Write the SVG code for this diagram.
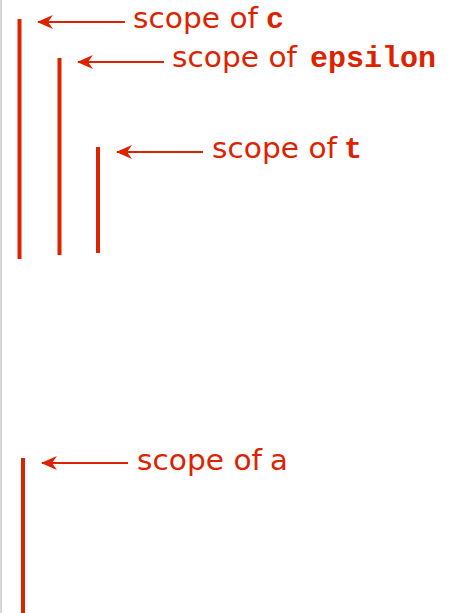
<svg xmlns="http://www.w3.org/2000/svg" width="459" height="613" viewBox="0 0 459 613">
<style>
.bar{stroke:#dd2200;stroke-width:4;fill:none}
.arr{stroke:#dd2200;stroke-width:2;fill:none;marker-end:url(#ah)}
.lbl{font-family:"DejaVu Sans",sans-serif;font-size:29px;fill:#dd2200}
.code{font-family:"Liberation Mono",monospace;font-weight:bold;font-size:30px;fill:#dd2200}
</style>
<defs>
<marker id="ah" markerWidth="16" markerHeight="14" viewBox="0 0 16 14" refX="15" refY="7" orient="auto" markerUnits="userSpaceOnUse">
<path d="M0,0 L16,7 L0,14 L5,7 Z" fill="#dd2200"/>
</marker>
</defs>
<rect width="459" height="613" fill="#ffffff"/>
<line x1="1" y1="0" x2="1" y2="613" stroke="#c8c8c8" stroke-width="1.5"/>
<g id="scope-c">
<line class="bar" x1="19.5" y1="19" x2="19.5" y2="259"/>
<text class="lbl" x="133" y="28" textLength="125" lengthAdjust="spacingAndGlyphs">scope of</text>
<text class="code" x="266" y="28">c</text>
</g>
<g id="scope-epsilon">
<line class="bar" x1="59.5" y1="58" x2="59.5" y2="255"/>
<text class="lbl" x="172" y="67" textLength="125" lengthAdjust="spacingAndGlyphs">scope of</text>
<text class="code" x="310" y="67">epsilon</text>
</g>
<g id="scope-t">
<line class="bar" x1="98" y1="147" x2="98" y2="253"/>
<text class="lbl" x="212" y="158" textLength="125" lengthAdjust="spacingAndGlyphs">scope of</text>
<text class="code" x="344" y="158">t</text>
</g>
<g id="scope-a">
<line class="bar" x1="23" y1="458" x2="23" y2="613"/>
<text class="lbl" x="137" y="470" textLength="125" lengthAdjust="spacingAndGlyphs">scope of</text>
<text class="lbl" x="270" y="470">a</text>
</g>
<g id="connectors">
<line class="arr" x1="125" y1="22" x2="38" y2="22"/>
<line class="arr" x1="164" y1="62" x2="78" y2="62"/>
<line class="arr" x1="203" y1="152" x2="117" y2="152"/>
<line class="arr" x1="128" y1="463" x2="42" y2="463"/>
</g>
</svg>
